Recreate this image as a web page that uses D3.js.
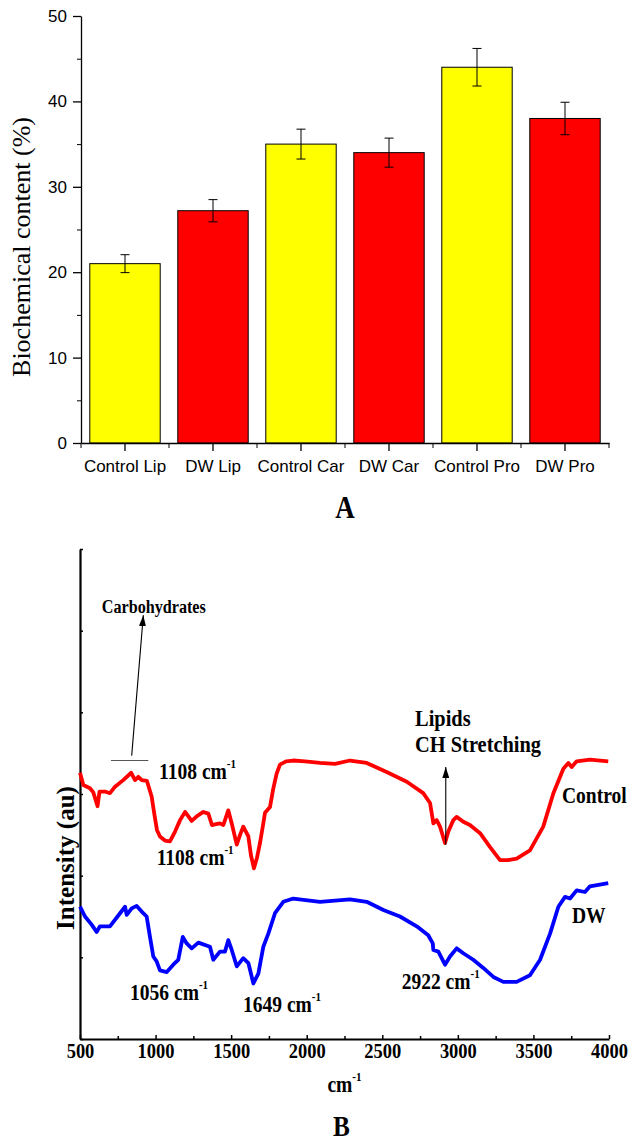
<!DOCTYPE html>
<html>
<head>
<meta charset="UTF-8">
<style>
body { margin: 0; background: #fff; }
svg { display: block; }
</style>
</head>
<body>
<svg></svg>
<script src="https://d3js.org/d3.v7.min.js"></script>
<script>

// ---- panel A data ----
const categories = ["Control Lip", "DW Lip", "Control Car", "DW Car", "Control Pro", "DW Pro"];
const contents = [21, 27.2, 35, 34, 44, 38];
const errors = [1.05, 1.3, 1.75, 1.7, 2.2, 1.9];
const yTicksA = [0, 10, 20, 30, 40, 50];
const yMinorA = [5, 15, 25, 35, 45];

// ---- panel B data (FTIR spectra) ----
const controlWn = [500,522,566,588,616,629,665,698,732,786,839,864,886,908,943,974,993,1009,1029,1062,1095,1129,1162,1195,1239,1274,1316,1349,1373,1400,1426,1448,1481,1504,1537,1559,1580,1614,1631,1651,1671,1691,1711,1724,1757,1777,1801,1823,1863,1911,1989,2088,2187,2286,2397,2529,2662,2771,2816,2838,2860,2882,2915,2937,2970,2992,3036,3080,3147,3213,3279,3332,3389,3477,3565,3632,3698,3731,3753,3786,3874,3995];
const controlInt = [32.6,31.1,30.7,30.2,28.5,30.3,30.3,30.1,30.9,31.7,32.6,31.7,32.1,31.7,31.6,29.7,27.4,25.6,24.8,24.3,24.2,25.4,26.8,27.8,26.7,27.3,27.8,27.6,26.2,26.3,26.4,26.2,28.0,26.4,23.8,25.0,26.0,24.8,22.5,20.9,22.2,24.0,26.2,27.7,28.4,30.5,32.5,33.6,34.0,34.1,34.0,33.8,33.7,34.1,33.8,32.7,31.5,30.1,28.9,26.4,26.8,26.0,24.0,25.4,26.8,27.2,26.6,26.2,25.2,23.5,21.9,21.9,22.1,23.1,26.0,30.1,33.1,33.8,33.3,34.0,34.2,34.0];
const dwWn = [500,533,577,610,632,698,765,798,809,842,875,908,941,963,985,1007,1029,1074,1117,1150,1180,1206,1239,1283,1360,1382,1426,1459,1481,1504,1537,1580,1614,1647,1680,1713,1746,1790,1845,1911,2088,2286,2397,2507,2617,2728,2804,2834,2838,2871,2915,2948,2992,3036,3102,3168,3235,3301,3389,3477,3544,3610,3665,3709,3742,3786,3841,3874,3995];
const dwInt = [16.2,15.0,14.0,13.1,13.8,13.8,15.4,16.2,15.2,16.0,16.3,15.6,15.0,12.5,10.1,9.5,8.4,8.2,9.1,9.7,12.5,11.7,11.1,11.8,11.3,9.7,10.7,10.7,12.1,10.9,8.9,9.9,9.3,6.8,8.0,11.3,12.9,15.4,16.8,17.2,16.8,17.1,16.8,15.8,15.0,13.8,12.7,11.7,10.9,10.7,9.1,10.1,11.1,10.5,9.7,8.7,7.6,7.0,7.0,7.8,9.7,12.9,16.2,17.4,17.2,18.2,18.0,18.7,19.1];
const xTicksB = [500, 1000, 1500, 2000, 2500, 3000, 3500, 4000];
const xMinorB = [750, 1250, 1750, 2250, 2750, 3250, 3750];
const yTicksB = [0, 10, 20, 30, 40, 50, 60];

const width = 628, height = 1144;
const sans = "'Liberation Sans', Arial, sans-serif";
const serif = "'Liberation Serif', 'Times New Roman', serif";

let svg = d3.select("svg")
    .attr("width", width)
    .attr("height", height)
    .attr("viewBox", "0 0 " + width + " " + height);

// ================= Panel A =================
let x = d3.scaleBand().domain(categories).range([81, 609]).paddingInner(0.2).paddingOuter(0.1);
let y = d3.scaleLinear().domain([0, 50]).range([443, 16]);
let colour = d => d.startsWith("Control") ? "#ffff00" : "#ff0000";

let gA = svg.append("g");

gA.selectAll("rect.bar")
  .data(categories)
  .enter()
  .append("rect")
    .attr("class", "bar")
    .attr("x", d => x(d))
    .attr("width", x.bandwidth())
    .attr("y", (d, i) => y(contents[i]))
    .attr("height", (d, i) => y(0) - y(contents[i]))
    .attr("fill", d => colour(d))
    .attr("stroke", "#000")
    .attr("stroke-width", 1);

let err = gA.selectAll("g.err")
  .data(categories)
  .enter()
  .append("g")
    .attr("class", "err")
    .attr("transform", d => "translate(" + (x(d) + x.bandwidth() / 2) + ",0)")
    .attr("stroke", "#000")
    .attr("stroke-width", 1);
err.append("line")
    .attr("y1", (d, i) => y(contents[i] - errors[i]))
    .attr("y2", (d, i) => y(contents[i] + errors[i]));
err.append("line").attr("x1", -4.5).attr("x2", 4.5)
    .attr("y1", (d, i) => y(contents[i] + errors[i]))
    .attr("y2", (d, i) => y(contents[i] + errors[i]));
err.append("line").attr("x1", -4.5).attr("x2", 4.5)
    .attr("y1", (d, i) => y(contents[i] - errors[i]))
    .attr("y2", (d, i) => y(contents[i] - errors[i]));

// y axis
let yAxis = gA.append("g")
    .attr("transform", "translate(81,0)")
    .call(d3.axisLeft(y).tickValues(yTicksA).tickSize(8).tickSizeOuter(0).tickPadding(6));
gA.append("g")
    .attr("transform", "translate(81,0)")
    .call(d3.axisLeft(y).tickValues(yMinorA).tickSize(4).tickFormat(""))
    .select(".domain").remove();

// x axis
let xAxis = gA.append("g")
    .attr("transform", "translate(0,443)")
    .call(d3.axisBottom(x).tickSize(8).tickSizeOuter(0).tickPadding(9));
let edges = d3.range(categories.length + 1).map(i => x.range()[0] + i * x.step());
gA.append("g").selectAll("line")
  .data(edges)
  .enter()
  .append("line")
    .attr("x1", d => d).attr("x2", d => d)
    .attr("y1", 443).attr("y2", 448)
    .attr("stroke", "#000");

[yAxis, xAxis].forEach(a => {
    a.selectAll("text").attr("font-family", sans).attr("font-size", 17).attr("fill", "#000");
    a.selectAll("line, path").attr("stroke", "#000").attr("stroke-width", 1.3);
});

gA.append("text")
    .attr("transform", "translate(30,247) rotate(-90)")
    .attr("text-anchor", "middle")
    .attr("font-family", serif)
    .attr("font-size", 26)
    .text("Biochemical content (%)");

svg.append("text")
    .attr("transform", "translate(" + ((x.range()[0] + x.range()[1]) / 2) + ",518) scale(0.87,1)")
    .attr("text-anchor", "middle")
    .attr("font-family", serif)
    .attr("font-weight", "bold")
    .attr("font-size", 31)
    .text("A");

// ================= Panel B =================
let xs = d3.scaleLinear().domain([500, 4000]).range([80, 609]);
let ys = d3.scaleLinear().domain([0, 60]).range([1039, 549]);

let gB = svg.append("g");

let xAxisB = gB.append("g")
    .attr("transform", "translate(0,1039)")
    .call(d3.axisBottom(xs).tickValues(xTicksB).tickSize(-4).tickSizeOuter(0).tickPadding(4).tickFormat(d3.format("d")));
gB.append("g")
    .attr("transform", "translate(0,1039)")
    .call(d3.axisBottom(xs).tickValues(xMinorB).tickSize(-3).tickFormat(""))
    .select(".domain").remove();
let yAxisB = gB.append("g")
    .attr("transform", "translate(80,0)")
    .call(d3.axisRight(ys).tickValues(yTicksB).tickSize(3).tickSizeOuter(0).tickFormat(""));

gB.selectAll(".domain").attr("stroke", "#000").attr("stroke-width", 2.2);
gB.selectAll(".tick line").attr("stroke", "#000").attr("stroke-width", 1.5);
xAxisB.selectAll("text")
    .attr("font-family", serif)
    .attr("font-weight", "bold")
    .attr("font-size", 21)
    .attr("fill", "#000")
    .attr("transform", "scale(0.88,1)");

let line = d3.line().x(d => xs(d[0])).y(d => ys(d[1]));

gB.append("path")
    .datum(d3.zip(controlWn, controlInt))
    .attr("d", line)
    .attr("fill", "none")
    .attr("stroke", "#ff0000")
    .attr("stroke-width", 3.8)
    .attr("stroke-linejoin", "round");

gB.append("path")
    .datum(d3.zip(dwWn, dwInt))
    .attr("d", line)
    .attr("fill", "none")
    .attr("stroke", "#0000ff")
    .attr("stroke-width", 3.8)
    .attr("stroke-linejoin", "round");

// arrow head
svg.append("defs").append("marker")
    .attr("id", "arrow")
    .attr("markerUnits", "userSpaceOnUse")
    .attr("viewBox", "0 0 11 7")
    .attr("markerWidth", 11)
    .attr("markerHeight", 7)
    .attr("refX", 11)
    .attr("refY", 3.5)
    .attr("orient", "auto")
  .append("path")
    .attr("d", "M0,0 L11,3.5 L0,7 Z")
    .attr("fill", "#000");

function label(txt, wn, val, size, sup, anchor) {
    let t = gB.append("text")
        .attr("transform", "translate(" + xs(wn) + "," + ys(val) + ") scale(0.85,1)")
        .attr("text-anchor", anchor || "start")
        .attr("font-family", serif)
        .attr("font-weight", "bold")
        .attr("font-size", size)
        .attr("fill", "#000");
    t.append("tspan").text(txt);
    if (sup) t.append("tspan").attr("font-size", 13).attr("dy", -11).text(sup);
    return t;
}

label("Carbohydrates", 644, 52.2, 19);
label("1108 cm", 1023, 31.8, 23, "-1");
label("1108 cm", 1007, 21.3, 23, "-1");
label("1056 cm", 831, 4.8, 23, "-1");
label("1649 cm", 1578, 3.3, 23, "-1");
label("2922 cm", 2628, 6.1, 23, "-1");
label("Lipids", 2717, 38.3, 24);
label("CH Stretching", 2717, 35.1, 24);
label("Control", 3689, 28.9, 23);
label("DW", 3755, 14.2, 23);

// carbohydrate marker
gB.append("line")
    .attr("x1", xs(705)).attr("x2", xs(952))
    .attr("y1", ys(34.1)).attr("y2", ys(34.1))
    .attr("stroke", "#555").attr("stroke-width", 1.2);
gB.append("line")
    .attr("x1", xs(842)).attr("y1", ys(34.7))
    .attr("x2", xs(919)).attr("y2", ys(51.9))
    .attr("stroke", "#000").attr("stroke-width", 1.1)
    .attr("marker-end", "url(#arrow)");
// lipid arrow
gB.append("line")
    .attr("x1", xs(2920)).attr("y1", ys(23.8))
    .attr("x2", xs(2920)).attr("y2", ys(33.3))
    .attr("stroke", "#000").attr("stroke-width", 1.1)
    .attr("marker-end", "url(#arrow)");

gB.append("text")
    .attr("transform", "translate(74,858) rotate(-90)")
    .attr("text-anchor", "middle")
    .attr("font-family", serif)
    .attr("font-weight", "bold")
    .attr("font-size", 25)
    .text("Intensity (au)");

let xt = gB.append("text")
    .attr("transform", "translate(" + ((xs.range()[0] + xs.range()[1]) / 2) + ",1092) scale(0.85,1)")
    .attr("text-anchor", "middle")
    .attr("font-family", serif)
    .attr("font-weight", "bold")
    .attr("font-size", 23);
xt.append("tspan").text("cm");
xt.append("tspan").attr("font-size", 13).attr("dy", -11).text("-1");

svg.append("text")
    .attr("transform", "translate(" + ((xs.range()[0] + xs.range()[1]) / 2 - 3) + ",1136) scale(0.87,1)")
    .attr("text-anchor", "middle")
    .attr("font-family", serif)
    .attr("font-weight", "bold")
    .attr("font-size", 29)
    .text("B");

</script>
</body>
</html>
